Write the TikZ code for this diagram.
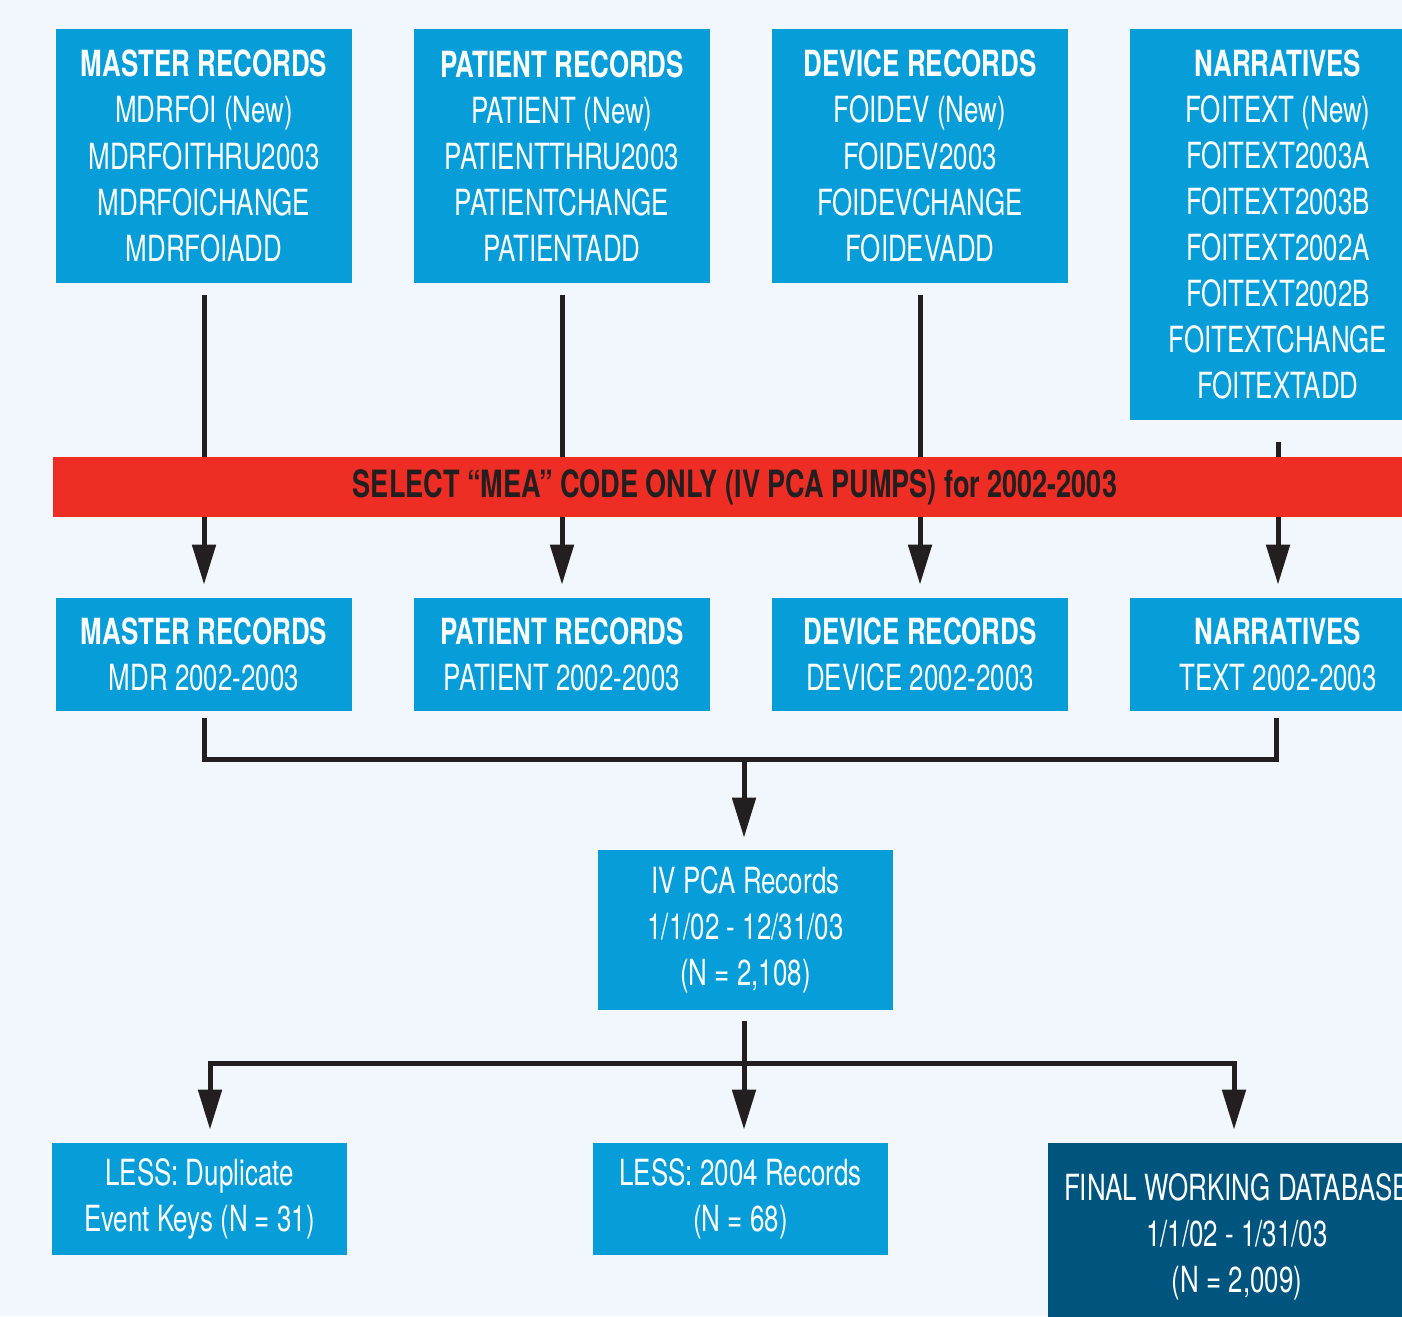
\documentclass[tikz,border=0pt]{standalone}
\usepackage{fontspec}
\setmainfont{TeX Gyre Heros}[FakeStretch=0.72]
\usetikzlibrary{arrows.meta,calc}
\usetikzlibrary{positioning}
\definecolor{bgc}{HTML}{F1F7FC}
\definecolor{recblue}{HTML}{069DD8}
\definecolor{dbblue}{HTML}{00557F}
\definecolor{selred}{HTML}{EE2E24}
\definecolor{ink}{HTML}{231F20}
\tikzset {
    rec/.style = {fill=recblue, text=white, align=center, inner sep=0pt,
                  minimum width=5.92cm, font=\fontsize{20.5}{26.2}\selectfont},
    final/.style = {rec, fill=dbblue},
    line/.style = {draw=ink, line width=0.1cm},
    arr/.style = {line, -{Triangle[width=0.46cm,length=0.8cm]}}
    %hd/.style = {font=\bfseries}
}

\begin{document}
\begin{tikzpicture}[x=0.02cm, y=-0.02cm]
	\useasboundingbox (0,0) rectangle (1402,1316);
	\clip (0,0) rectangle (1402,1316);
	\fill[bgc] (0,0) rectangle (1402,1316);

	% source tables
	\node (a) [rec, minimum height=5.08cm] at (204,156) {\textbf{MASTER RECORDS}\\MDRFOI (New)\\MDRFOITHRU2003\\MDRFOICHANGE\\MDRFOIADD};
	\node (b) [rec, minimum height=5.08cm] at (562,156) {\textbf{PATIENT RECORDS}\\PATIENT (New)\\PATIENTTHRU2003\\PATIENTCHANGE\\PATIENTADD};
	\node (c) [rec, minimum height=5.08cm] at (920,156) {\textbf{DEVICE RECORDS}\\FOIDEV (New)\\FOIDEV2003\\FOIDEVCHANGE\\FOIDEVADD};
	\node (d) [rec, minimum height=7.82cm] at (1278,224.5) {\textbf{NARRATIVES}\\FOITEXT (New)\\FOITEXT2003A\\FOITEXT2003B\\FOITEXT2002A\\FOITEXT2002B\\FOITEXTCHANGE\\FOITEXTADD};

	% selected tables
	\node (a2) [rec, minimum height=2.26cm] at (204,654.5) {\textbf{MASTER RECORDS}\\MDR 2002-2003};
	\node (b2) [rec, minimum height=2.26cm] at (562,654.5) {\textbf{PATIENT RECORDS}\\PATIENT 2002-2003};
	\node (c2) [rec, minimum height=2.26cm] at (920,654.5) {\textbf{DEVICE RECORDS}\\DEVICE 2002-2003};
	\node (d2) [rec, minimum height=2.26cm] at (1278,654.5) {\textbf{NARRATIVES}\\TEXT 2002-2003};

	\node (p) [rec, minimum width=5.9cm, minimum height=3.2cm] at (745.5,930) {IV PCA Records\\1/1/02 - 12/31/03\\(N = 2,108)};
	\node (l1) [rec, minimum width=5.9cm, minimum height=2.24cm] at (199.5,1199) {LESS: Duplicate\\Event Keys (N = 31)};
	\node (l2) [rec, minimum width=5.9cm, minimum height=2.24cm] at (740.5,1199) {LESS: 2004 Records\\(N = 68)};
	\node (f) [final, minimum width=7.56cm, minimum height=3.74cm] at (1237,1236.5) {FINAL WORKING DATABASE\\1/1/02 - 1/31/03\\(N = 2,009)};

	\draw[arr, shorten <=0.24cm, shorten >=0.26cm] (a) -- (a2);
	\draw[arr, shorten <=0.24cm, shorten >=0.26cm] (b) -- (b2);
	\draw[arr, shorten <=0.24cm, shorten >=0.26cm] (c) -- (c2);
	\draw[arr, shorten <=0.44cm, shorten >=0.26cm] (d) -- (d2);

	% the filter bar lies over the arrows
	\node (s) [fill=selred, text=ink, inner sep=0pt, minimum width=27.28cm, minimum height=1.2cm,
	           font=\fontsize{21.4}{26.2}\selectfont\bfseries] at (735,487) {SELECT “MEA” CODE ONLY (IV PCA PUMPS) for 2002-2003};

	\coordinate (m) at (744,759);
	\draw[line] ($(a2.south)+(0,7)$) |- (m) -| ($(d2.south)+(-2,7)$);
	\draw[line] ($(b2.south)+(0,7)$) -- ($(b2.south)+(0,7)$ |- m);
	\draw[line] ($(c2.south)+(2,7)$) -- ($(c2.south)+(2,7)$ |- m);
	\draw[arr, shorten >=0.24cm] (m) -- (m |- p.north);

	\coordinate (j) at (744,1063);
	\draw[arr, shorten <=0.22cm, shorten >=0.26cm] (j |- p.south) -- (j |- l2.north);
	\draw[arr, shorten >=0.26cm] (j) -| ($(l1.north)+(10.5,0)$);
	\draw[arr, shorten >=0.26cm] (j) -| ($(f.north)+(-3,0)$);
\end{tikzpicture}
\end{document}
